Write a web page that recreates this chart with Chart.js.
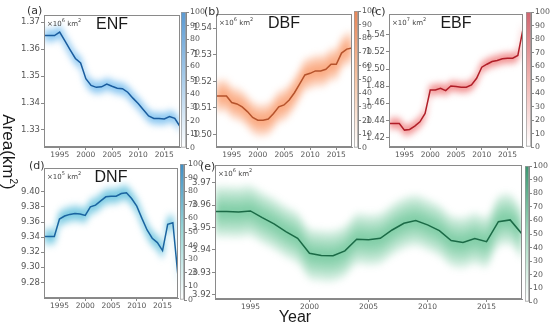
<!DOCTYPE html>
<html><head><meta charset="utf-8">
<script src="https://cdn.jsdelivr.net/npm/chart.js@4.4.1/dist/chart.umd.min.js"></script>
<style>
html,body{margin:0;padding:0;background:#fff;}
#root{position:relative;width:550px;height:329px;overflow:hidden;background:#fff;}
canvas{position:absolute;}
.t{position:absolute;white-space:nowrap;color:#222;line-height:1;}
</style></head><body><div id="root"></div>
<script>
// ---------- data ----------
const years = [1992,1993,1994,1995,1996,1997,1998,1999,2000,2001,2002,2003,2004,2005,2006,2007,2008,2009,2010,2011,2012,2013,2014,2015,2016,2017,2018];
const xTicks = [1995,2000,2005,2010,2015];
const cbarTicks = [0,10,20,30,40,50,60,70,80,90,100];

const enf = [1.3650,1.3650,1.3650,1.3663,1.3630,1.3597,1.3565,1.3548,1.3490,1.3465,1.3458,1.3460,1.3470,1.3462,1.3455,1.3453,1.3440,1.3418,1.3398,1.3375,1.3352,1.3343,1.3343,1.3341,1.3350,1.3343,1.3313];
const dbf = [1.5145,1.5145,1.5145,1.5120,1.5115,1.5104,1.5086,1.5064,1.5054,1.5054,1.5058,1.5079,1.5104,1.5111,1.5130,1.5157,1.5190,1.5224,1.5230,1.5239,1.5239,1.5245,1.5264,1.5264,1.5306,1.5321,1.5325];
const ebf = [1.4365,1.4365,1.4365,1.4287,1.4295,1.4334,1.4384,1.4482,1.4755,1.4755,1.4775,1.4748,1.4802,1.4795,1.4787,1.4787,1.4814,1.4892,1.5021,1.5056,1.5087,1.5099,1.5119,1.5127,1.5127,1.5158,1.5466];
const dnf = [9.3407,9.3407,9.3407,9.3640,9.3679,9.3701,9.3714,9.3705,9.3688,9.3802,9.3824,9.3881,9.3934,9.3943,9.3943,9.3978,9.3987,9.3912,9.3811,9.3648,9.3495,9.3385,9.3327,9.3222,9.3569,9.3591,9.2879];
const mf  = [3.9571,3.9571,3.9569,3.9574,3.9544,3.9516,3.9482,3.9452,3.9385,3.9375,3.9374,3.9396,3.9448,3.9445,3.9452,3.9489,3.9519,3.9531,3.9512,3.9486,3.9442,3.9433,3.9451,3.9437,3.9526,3.9534,3.9471];

const enfTicks = [1.33,1.34,1.35,1.36,1.37];
const dbfTicks = [1.50,1.51,1.52,1.53,1.54];
const ebfTicks = [1.42,1.44,1.46,1.48,1.50,1.52,1.54];
const dnfTicks = [9.28,9.30,9.32,9.34,9.36,9.38,9.40];
const mfTicks  = [3.92,3.93,3.94,3.95,3.96,3.97];

const panelNames = ['ENF','DBF','EBF','DNF',''];
const panelTags  = ['(a)','(b)','(c)','(d)','(e)'];
const unitExp    = ['6','6','7','5','6'];
// half-width of the shaded uncertainty band, per panel (same units as the data)
const bandSpread = [0.0030,0.0065,0.0080,0.013,0.012];

// ---------- helpers ----------
const root = document.getElementById('root');
const TICKFONT = "'DejaVu Sans', sans-serif";
function addText(txt, x, y, css){
  const d = document.createElement('div');
  d.className = 't'; d.innerHTML = txt;
  d.style.left = x + 'px'; d.style.top = y + 'px';
  Object.assign(d.style, css || {});
  root.appendChild(d); return d;
}
function addCanvas(l, t, w, h){
  const c = document.createElement('canvas');
  c.width = w; c.height = h;
  c.style.left = l + 'px'; c.style.top = t + 'px';
  c.style.width = w + 'px'; c.style.height = h + 'px';
  root.appendChild(c); return c;
}
const framePlugin = {
  id: 'frame',
  afterDatasetsDraw(chart, args, opts){
    if (!opts || !opts.color) return;
    const a = chart.chartArea, ctx = chart.ctx;
    ctx.save(); ctx.strokeStyle = opts.color; ctx.lineWidth = 1;
    ctx.strokeRect(Math.round(a.left)+0.5, Math.round(a.top)+0.5, Math.round(a.right-a.left)-1, Math.round(a.bottom-a.top)-1);
    ctx.restore();
  }
};

const PADL = 46, PADT = 16, PADR = 4, PADB = 22;

function scalesCfg(p, visible){
  const tc = visible ? '#555' : 'rgba(0,0,0,0)';
  const gc = visible ? '#888' : 'rgba(0,0,0,0)';
  return {
    x: {
      type: 'linear', min: years[0], max: years[years.length-1],
      afterBuildTicks: s => { s.ticks = xTicks.map(v => ({value: v})); },
      afterFit: s => { s.height = PADB; },
      ticks: {autoSkip: false, maxRotation: 0, color: tc, padding: 1,
              font: {family: TICKFONT, size: 7.5}, callback: v => String(v)},
      grid: {drawOnChartArea: false, tickLength: 3, color: gc},
      border: {display: visible, color: gc}
    },
    y: {
      type: 'linear', min: p.yMin, max: p.yMax,
      afterBuildTicks: s => { s.ticks = p.yTicks.map(v => ({value: v})); },
      afterFit: s => { s.width = PADL; },
      ticks: {autoSkip: false, color: tc, padding: 1,
              font: {family: TICKFONT, size: 8.5}, callback: v => v.toFixed(2)},
      grid: {drawOnChartArea: false, tickLength: 3, color: gc},
      border: {display: visible, color: gc}
    }
  };
}

function makePanel(p){
  const r = p.rect;
  const w = r.r - r.l + PADL + PADR, h = r.b - r.t + PADT + PADB;
  const L = r.l - PADL, T = r.t - PADT;
  const pts = years.map((y, i) => ({x: y, y: p.data[i]}));

  // blurred uncertainty band
  const K = 8, bands = [];
  for (let k = K; k >= 1; k--) {
    const d = p.spread * k / K;
    bands.push({data: years.map((y, i) => ({x: y, y: p.data[i] + d})), fill: '+1',
      backgroundColor: p.band, borderWidth: 0, pointRadius: 0, tension: 0.35});
    bands.push({data: years.map((y, i) => ({x: y, y: p.data[i] - d})), fill: false,
      borderWidth: 0, pointRadius: 0, tension: 0.35});
  }
  const cb = addCanvas(L, T, w, h);
  cb.style.filter = 'blur(3px)';
  cb.style.clipPath = `inset(${PADT+1}px ${PADR+1}px ${PADB+1}px ${PADL+1}px)`;
  new Chart(cb, {
    type: 'line', data: {datasets: bands},
    options: {responsive: false, animation: false, devicePixelRatio: 1,
      layout: {padding: {top: PADT, right: PADR, left: 0, bottom: 0}},
      plugins: {legend: {display: false}, tooltip: {enabled: false}, filler: {propagate: false}},
      scales: scalesCfg(p, false)}
  });

  // main line + axes
  const cm = addCanvas(L, T, w, h);
  new Chart(cm, {
    type: 'line',
    data: {datasets: [{data: pts, borderColor: p.line, borderWidth: 1.5, pointRadius: 0, fill: false, tension: 0}]},
    options: {responsive: false, animation: false, devicePixelRatio: 1,
      layout: {padding: {top: PADT, right: PADR, left: 0, bottom: 0}},
      plugins: {legend: {display: false}, tooltip: {enabled: false}, frame: {color: '#8a8a8a'}},
      scales: scalesCfg(p, true)},
    plugins: [framePlugin]
  });

  // colorbar
  const c = p.cbar, CBW = 22, CPAD = 6;
  const cc = addCanvas(c.l, c.t - CPAD, (c.r - c.l) + CBW, (c.b - c.t) + 2*CPAD);
  new Chart(cc, {
    type: 'bar',
    data: {labels: [''], datasets: [{data: [cbarTicks[cbarTicks.length-1]],
      backgroundColor: ctx => {
        const a = ctx.chart.chartArea; if (!a) return p.cstops[2];
        const g = ctx.chart.ctx.createLinearGradient(0, a.bottom, 0, a.top);
        g.addColorStop(0, p.cstops[0]); g.addColorStop(0.5, p.cstops[1]); g.addColorStop(1, p.cstops[2]);
        return g;
      },
      borderColor: '#9a9a9a', borderWidth: 1, borderSkipped: false,
      barPercentage: 1, categoryPercentage: 1}]},
    options: {responsive: false, animation: false, devicePixelRatio: 1,
      layout: {padding: {top: CPAD, bottom: CPAD, left: 0, right: 0}},
      plugins: {legend: {display: false}, tooltip: {enabled: false}},
      scales: {
        x: {display: false},
        y: {position: 'right', min: cbarTicks[0], max: cbarTicks[cbarTicks.length-1],
            afterBuildTicks: s => { s.ticks = cbarTicks.map(v => ({value: v})); },
            afterFit: s => { s.width = CBW; },
            ticks: {color: '#555', padding: 1, font: {family: TICKFONT, size: 7.8}},
            grid: {drawOnChartArea: false, tickLength: 3, color: '#888'},
            border: {display: true, color: '#888'}}
      }}
  });

  // texts
  if (p.name) addText(p.name, (r.l + r.r)/2, r.t + 1,
      {transform: 'translateX(-50%)', fontFamily: "'Liberation Sans', Arial, sans-serif", fontSize: '16px', color: '#1a1a1a'});
  addText('&times;10<sup style="font-size:5px;vertical-align:4px">' + p.exp + '</sup> km<sup style="font-size:5px;vertical-align:4px">2</sup>',
      r.l + 3, r.t + 3, {fontFamily: TICKFONT, fontSize: '7px', color: '#444'});
  addText(p.tag, p.tagPos[0], p.tagPos[1], {fontFamily: TICKFONT, fontSize: '11px', color: '#333'});
}

const panels = [
  {data: enf, yTicks: enfTicks, yMin: 1.3237, yMax: 1.3726, rect: {l: 44, t: 15, r: 180, b: 147},
   cbar: {l: 181, r: 186, t: 12, b: 148}, line: '#1a5c9e', band: 'rgba(60,160,230,0.13)',
   cstops: ['#ffffff', '#aacdea', '#5a9ad3'], tagPos: [27, 5]},
  {data: dbf, yTicks: dbfTicks, yMin: 1.4953, yMax: 1.5453, rect: {l: 216, t: 14, r: 352, b: 147},
   cbar: {l: 354, r: 358, t: 11, b: 148}, line: '#b5532c', band: 'rgba(245,125,65,0.13)',
   cstops: ['#ffffff', '#f7c6a6', '#e98657'], tagPos: [204, 6]},
  {data: ebf, yTicks: ebfTicks, yMin: 1.409, yMax: 1.5642, rect: {l: 389, t: 14, r: 523, b: 147},
   cbar: {l: 526, r: 531, t: 12, b: 147}, line: '#b01e28', band: 'rgba(235,80,80,0.14)',
   cstops: ['#ffffff', '#f1b5b1', '#d06671'], tagPos: [371, 6]},
  {data: dnf, yTicks: dnfTicks, yMin: 9.2593, yMax: 9.4316, rect: {l: 44, t: 168, r: 178, b: 298},
   cbar: {l: 180, r: 184, t: 164, b: 300}, line: '#1a64a0', band: 'rgba(40,170,210,0.13)',
   cstops: ['#ffffff', '#9ad8d6', '#3f8fc7'], tagPos: [29, 160]},
  {data: mf, yTicks: mfTicks, yMin: 3.9181, yMax: 3.9779, rect: {l: 215, t: 165, r: 522, b: 299},
   cbar: {l: 525, r: 529, t: 166, b: 302}, line: '#1b6a46', band: 'rgba(50,175,110,0.11)',
   cstops: ['#ffffff', '#a3d9be', '#3a9670'], tagPos: [200, 161]}
];
panels.forEach((p, i) => {
  p.name = panelNames[i]; p.tag = panelTags[i]; p.exp = unitExp[i]; p.spread = bandSpread[i];
  makePanel(p);
});

// axis titles
addText('Year', 295, 309, {transform: 'translateX(-50%)', fontFamily: "'Liberation Sans', Arial, sans-serif", fontSize: '16px', color: '#1a1a1a'});
addText('Area(km<sup style="font-size:10px;vertical-align:7px">2</sup>)', 9, 152,
  {transform: 'translate(-50%,-50%) rotate(90deg)', fontFamily: "'Liberation Sans', Arial, sans-serif", fontSize: '17px', color: '#1a1a1a'});
</script></body></html>
